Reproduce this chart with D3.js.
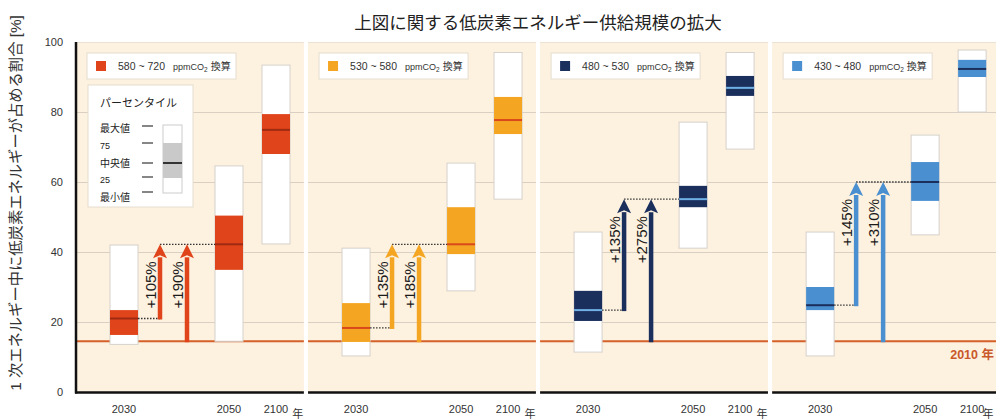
<!DOCTYPE html>
<html><head><meta charset="utf-8">
<script src="https://cdn.jsdelivr.net/npm/d3@7"></script>
<style>
html,body{margin:0;padding:0;background:#fff;}
svg text{font-family:"Liberation Sans","Noto Sans CJK JP",sans-serif;}
</style></head>
<body>
<svg id="c" width="996" height="420"></svg>
<script>
// ---- data ----
const title = "上図に関する低炭素エネルギー供給規模の拡大";
const yTitle = "1 次エネルギー中に低炭素エネルギーが占める割合 [%]";
const scenarios = ["580 ~ 720", "530 ~ 580", "480 ~ 530", "430 ~ 480"];
const years = ["2030", "2050", "2100"];
const yTicks = [0, 20, 40, 60, 80, 100];
const level2010 = 14.5;
// per scenario, per year [2030, 2050, 2100]
const minVals    = [[13.6, 14.5, 42.3], [10.3, 28.9, 55.1], [11.4, 41.1, 69.4], [10.3, 44.9, 80.0]];
const p25Vals    = [[16.3, 34.9, 68.0], [14.3, 39.4, 73.7], [20.3, 52.8, 84.6], [23.4, 54.6, 90.0]];
const medianVals = [[21.0, 42.2, 74.9], [18.3, 42.2, 77.7], [23.4, 55.1, 86.9], [24.8, 60.0, 92.3]];
const p75Vals    = [[23.4, 50.4, 79.4], [25.4, 52.8, 84.3], [28.9, 58.9, 90.3], [30.0, 65.7, 94.9]];
const maxVals    = [[42.0, 64.6, 93.4], [41.1, 65.4, 97.0], [45.7, 77.1, 97.0], [45.7, 73.4, 97.7]];
const growthFrom2030 = ["+105%", "+135%", "+135%", "+145%"];
const growthFrom2010 = ["+190%", "+185%", "+275%", "+310%"];
const percentileLabels = ["最大値", "75", "中央値", "25", "最小値"];
const percentileTitle = "パーセンタイル";
const label2010 = "2010 年";
const yearUnit = "年";

// ---- styles ----
const fillColors = ["#e0441b", "#f4a623", "#1b2f5c", "#4a8fd0"];
const medianColors = ["#9e2a12", "#d9481c", "#6fb1e6", "#1b2f5c"];
const arrowColors = ["#e0441b", "#f4a623", "#1b2f5c", "#4a8fd0"];

const svg = d3.select("#c");
const y = d3.scaleLinear().domain([0, 100]).range([392, 42]);
const panelX = d3.scaleBand().domain(d3.range(scenarios.length)).range([76, 1000]).paddingInner(0.018);
const pw = panelX.bandwidth();
const slot = d3.scaleOrdinal().domain(["2030", "up1", "up2", "2050", "2100"]).range([48, 84, 111, 153, 200]);
const boxW = 28;

// title
svg.append("text").attr("x", 538).attr("y", 29).attr("text-anchor", "middle")
  .attr("font-size", 17.5).attr("fill", "#222").text(title);

// y title
svg.append("text").attr("transform", "translate(21,203) rotate(-90)").attr("text-anchor", "middle")
  .attr("font-size", 15.3).attr("fill", "#333").text(yTitle);

// y axis labels
const yAxis = d3.axisLeft(y).tickValues(yTicks).tickSize(0).tickPadding(0);
const gy = svg.append("g").attr("transform", "translate(63,0)").call(yAxis);
gy.select(".domain").remove();
gy.selectAll("text").attr("font-size", 11).attr("fill", "#333").attr("font-family", "Liberation Sans, sans-serif");

scenarios.forEach((sc, i) => {
  const x0 = panelX(i);
  const g = svg.append("g").attr("transform", `translate(${x0},0)`);
  g.append("rect").attr("x", 0).attr("y", y(100)).attr("width", pw).attr("height", y(0) - y(100)).attr("fill", "#fdf1df");
  // top edge
  g.append("line").attr("x1", 0).attr("x2", pw).attr("y1", y(100) + 0.5).attr("y2", y(100) + 0.5).attr("stroke", "#ece2d4");
  // grid
  g.selectAll("line.grid").data(yTicks.filter(t => t > 0 && t < 100)).join("line").attr("class", "grid")
    .attr("x1", 0).attr("x2", pw).attr("y1", d => Math.round(y(d)) + 0.5).attr("y2", d => Math.round(y(d)) + 0.5)
    .attr("stroke", "#d9d0c3").attr("stroke-width", 1);
  // 2010 line
  g.append("line").attr("x1", 0).attr("x2", pw).attr("y1", y(level2010)).attr("y2", y(level2010))
    .attr("stroke", "#d4602a").attr("stroke-width", 2);
  // boxes
  years.forEach((yr, k) => {
    const cx = slot(yr);
    g.append("rect").attr("x", cx - boxW / 2).attr("width", boxW)
      .attr("y", y(maxVals[i][k])).attr("height", y(minVals[i][k]) - y(maxVals[i][k]))
      .attr("fill", "#fff").attr("stroke", "#d6d2cc").attr("stroke-width", 1);
    g.append("rect").attr("x", cx - boxW / 2).attr("width", boxW)
      .attr("y", y(p75Vals[i][k])).attr("height", y(p25Vals[i][k]) - y(p75Vals[i][k]))
      .attr("fill", fillColors[i]);
    g.append("line").attr("x1", cx - boxW / 2).attr("x2", cx + boxW / 2)
      .attr("y1", y(medianVals[i][k])).attr("y2", y(medianVals[i][k]))
      .attr("stroke", medianColors[i]).attr("stroke-width", 2);
  });
  // arrows
  const topV = medianVals[i][1], startV = medianVals[i][0];
  const a1 = slot("up1"), a2 = slot("up2");
  const head = 14, headH = 14;
  // dotted connectors
  g.append("line").attr("x1", slot("2030") + boxW / 2).attr("x2", a1).attr("y1", y(startV)).attr("y2", y(startV))
    .attr("stroke", "#333").attr("stroke-width", 1.3).attr("stroke-dasharray", "1.5,1.5");
  g.append("line").attr("x1", a1).attr("x2", slot("2050") - boxW / 2).attr("y1", y(topV)).attr("y2", y(topV))
    .attr("stroke", "#333").attr("stroke-width", 1.3).attr("stroke-dasharray", "1.5,1.5");
  [[a1, startV], [a2, level2010]].forEach(([ax, from]) => {
    g.append("line").attr("x1", ax).attr("x2", ax).attr("y1", y(from) + 1).attr("y2", y(topV) + headH - 1)
      .attr("stroke", arrowColors[i]).attr("stroke-width", 4.5);
    g.append("path").attr("d", `M${ax},${y(topV)} L${ax + head / 2},${y(topV) + headH} L${ax},${y(topV) + headH - 3} L${ax - head / 2},${y(topV) + headH} Z`)
      .attr("fill", arrowColors[i]);
  });
  [[a1, growthFrom2030[i]], [a2, growthFrom2010[i]]].forEach(([ax, t]) => {
    g.append("text").attr("transform", `translate(${ax - 4.5},${y(topV) + 17}) rotate(-90)`)
      .attr("text-anchor", "end").attr("font-size", 15).attr("font-weight", 500).attr("fill", "#1a1a1a").text(t);
  });
  // legend
  const lg = g.append("g").attr("transform", "translate(11,53)");
  lg.append("rect").attr("width", 149).attr("height", 26).attr("fill", "#fff").attr("stroke", "#e6ddd0");
  lg.append("rect").attr("x", 9).attr("y", 8).attr("width", 10).attr("height", 10).attr("fill", fillColors[i]);
  const lt = lg.append("text").attr("x", 31).attr("y", 17).attr("fill", "#333").attr("font-size", 10.5);
  lt.append("tspan").text(sc);
  lt.append("tspan").attr("dx", 8).attr("font-size", 9).text("ppmCO");
  lt.append("tspan").attr("font-size", 6.5).attr("dy", 2).text("2");
  lt.append("tspan").attr("font-size", 10).attr("dy", -2).attr("dx", 3).text("換算");
  // bottom axis
  g.append("line").attr("x1", i === 0 ? -1 : 0).attr("x2", pw).attr("y1", y(0) + 0.5).attr("y2", y(0) + 0.5)
    .attr("stroke", "#111").attr("stroke-width", 2.5);
  // x labels
  years.forEach(yr => {
    g.append("text").attr("x", slot(yr)).attr("y", 413).attr("text-anchor", "middle")
      .attr("font-size", 11).attr("fill", "#333").text(yr);
  });
  g.append("text").attr("x", Math.min(pw - 6, 988 - x0)).attr("y", 418).attr("text-anchor", "middle")
    .attr("font-size", 11).attr("fill", "#333").text(yearUnit);
});

// left axis line
svg.append("line").attr("x1", 76).attr("x2", 76).attr("y1", y(100)).attr("y2", y(0) + 1.5)
  .attr("stroke", "#111").attr("stroke-width", 2.5);

// 2010 label
svg.append("text").attr("x", 994).attr("y", 359).attr("text-anchor", "end").attr("font-size", 12.5).attr("font-weight", "bold")
  .attr("fill", "#c9582a").text(label2010);

// percentile legend (panel 1)
const pl = svg.append("g").attr("transform", "translate(88,85)");
pl.append("rect").attr("width", 105).attr("height", 122).attr("fill", "#fff").attr("stroke", "#e6ddd0");
pl.append("text").attr("x", 12).attr("y", 22).attr("font-size", 11).attr("fill", "#222").text(percentileTitle);
const plY = [41, 58, 78, 92, 107];
const plTextY = [47, 64, 82, 98, 116];
percentileLabels.forEach((t, k) => {
  pl.append("text").attr("x", 12).attr("y", plTextY[k]).attr("font-size", /\d/.test(t) ? 9 : 10).attr("fill", "#222").text(t);
  pl.append("line").attr("x1", 54).attr("x2", 65).attr("y1", plY[k]).attr("y2", plY[k]).attr("stroke", "#444").attr("stroke-width", 1.3);
});
pl.append("rect").attr("x", 75).attr("y", 40).attr("width", 19).attr("height", 68).attr("fill", "#fff").attr("stroke", "#ccc");
pl.append("rect").attr("x", 75).attr("y", 58).attr("width", 19).attr("height", 35).attr("fill", "#c9c9c9");
pl.append("line").attr("x1", 75).attr("x2", 94).attr("y1", 78).attr("y2", 78).attr("stroke", "#333").attr("stroke-width", 2);
</script>
</body></html>
